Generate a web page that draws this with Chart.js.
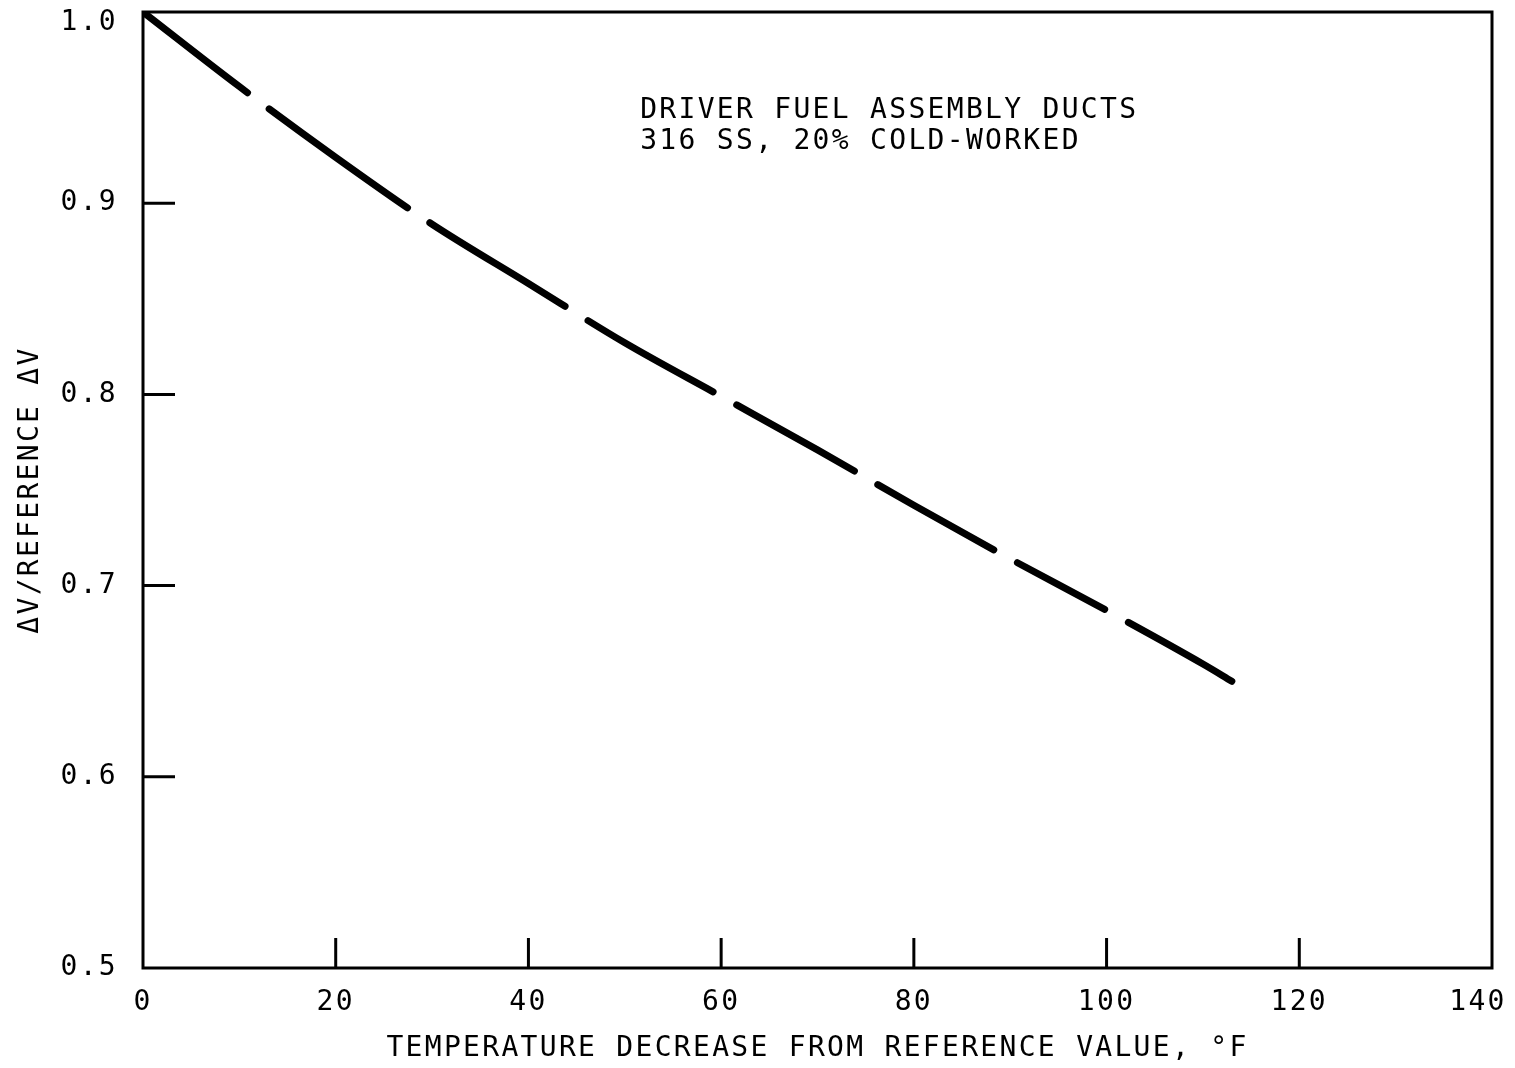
<!DOCTYPE html>
<html>
<head>
<meta charset="utf-8">
<script src="https://cdn.jsdelivr.net/npm/chart.js@4/dist/chart.umd.min.js"></script>
<style>
    html, body { margin: 0; padding: 0; background: #fff; }
    canvas { display: block; }
</style>
</head>
<body>
<canvas id="swelling-chart" width="1515" height="1068"></canvas>
<script>
// Temperature decrease (°F) and normalised swelling ratio
const tempDecrease = [0, 10, 20, 30, 40, 50, 60, 70, 80, 90, 100, 110, 113];
const swellRatio = [1.0, 0.961, 0.924, 0.889, 0.858, 0.827, 0.799, 0.771, 0.742, 0.714, 0.687, 0.659, 0.650];

const xTicks = [0, 20, 40, 60, 80, 100, 120, 140];
const yTicks = [0.5, 0.6, 0.7, 0.8, 0.9, 1.0];

const noteLines = ['DRIVER FUEL ASSEMBLY DUCTS', '316 SS, 20% COLD-WORKED'];
const xTitle = 'TEMPERATURE DECREASE FROM REFERENCE VALUE, °F';
const yTitle = 'ΔV/REFERENCE ΔV';

const FONT_FAMILY = "'DejaVu Sans Mono', monospace";
const FONT_SIZE = 28;
const SPACING = '2.3px';

// hand-drawn looking dashes: uneven dash lengths, even gaps
const DASHES = [132, 27, 170, 27, 159, 27, 144, 27, 135, 27, 133, 27, 99, 27, 220, 27];

const xMax = xTicks[xTicks.length - 1];
const yMax = yTicks[yTicks.length - 1];

// wide lettering, applied before layout and before drawing
const letterSpacing = {
    id: 'letterSpacing',
    beforeUpdate(chart) { chart.ctx.letterSpacing = SPACING; },
    beforeDraw(chart) { chart.ctx.letterSpacing = SPACING; }
};

// box frame, inward tick marks, corner labels and the note text
const frameAndTicks = {
    id: 'frameAndTicks',
    beforeDatasetsDraw(chart) {
        const { ctx, chartArea: a, scales: { x, y } } = chart;
        ctx.save();
        ctx.strokeStyle = '#000';
        ctx.lineWidth = 3;
        ctx.strokeRect(a.left, a.top, a.right - a.left, a.bottom - a.top);

        ctx.beginPath();
        xTicks.slice(1, -1).forEach(v => {
            const px = x.getPixelForValue(v);
            ctx.moveTo(px, a.bottom);
            ctx.lineTo(px, a.bottom - 30);
        });
        yTicks.slice(1, -1).forEach(v => {
            const py = y.getPixelForValue(v);
            ctx.moveTo(a.left, py);
            ctx.lineTo(a.left + 32, py);
        });
        ctx.stroke();

        ctx.fillStyle = '#000';
        ctx.font = `${FONT_SIZE}px ${FONT_FAMILY}`;
        ctx.letterSpacing = SPACING;

        // corner tick labels pulled inside the canvas
        ctx.textBaseline = 'middle';
        ctx.textAlign = 'right';
        ctx.fillText(yMax.toFixed(1), a.left - 25, y.getPixelForValue(yMax) + 11);
        ctx.textAlign = 'center';
        ctx.fillText(String(xMax), x.getPixelForValue(xMax) - 14, a.bottom + 35);

        ctx.textAlign = 'left';
        ctx.textBaseline = 'alphabetic';
        const nx = x.getPixelForValue(51.6);
        noteLines.forEach((line, i) => {
            ctx.fillText(line, nx, a.top + 106 + i * 31);
        });
        ctx.restore();
    }
};

// keep edge tick labels from shrinking the plot box
const noEdgePadding = s => {
    s.paddingTop = 0;
    s.paddingBottom = 0;
    s.paddingLeft = 0;
    s.paddingRight = 0;
};

const tickFont = { family: FONT_FAMILY, size: FONT_SIZE };

new Chart(document.getElementById('swelling-chart'), {
    type: 'line',
    data: {
        datasets: [{
            data: tempDecrease.map((t, i) => ({ x: t, y: swellRatio[i] })),
            borderColor: '#000',
            borderWidth: 7,
            borderDash: DASHES,
            borderCapStyle: 'round',
            cubicInterpolationMode: 'monotone',
            pointRadius: 0,
            fill: false
        }]
    },
    options: {
        responsive: false,
        animation: false,
        layout: { padding: { top: 12, right: 23, left: 0, bottom: 0 } },
        plugins: {
            legend: { display: false },
            tooltip: { enabled: false }
        },
        scales: {
            x: {
                type: 'linear',
                min: 0,
                max: xMax,
                afterBuildTicks: s => { s.ticks = xTicks.map(v => ({ value: v })); },
                afterFit: s => { s.height = 100; noEdgePadding(s); },
                grid: { display: false, drawTicks: false },
                border: { display: false },
                ticks: {
                    color: '#000',
                    font: tickFont,
                    padding: 18,
                    maxRotation: 0,
                    callback: v => (v === xMax ? '' : String(v))
                },
                title: {
                    display: true,
                    text: xTitle,
                    color: '#000',
                    font: tickFont,
                    padding: { top: 0, bottom: 2 }
                }
            },
            y: {
                type: 'linear',
                min: 0.5,
                max: yMax,
                afterBuildTicks: s => { s.ticks = yTicks.map(v => ({ value: v })); },
                afterFit: s => { s.width = 143; noEdgePadding(s); },
                grid: { display: false, drawTicks: false },
                border: { display: false },
                ticks: {
                    color: '#000',
                    font: tickFont,
                    padding: 25,
                    callback: v => (v === yMax ? '' : v.toFixed(1))
                },
                title: {
                    display: true,
                    text: yTitle,
                    color: '#000',
                    font: tickFont,
                    padding: { top: 14, bottom: 0 }
                }
            }
        }
    },
    plugins: [letterSpacing, frameAndTicks]
});
</script>
</body>
</html>
